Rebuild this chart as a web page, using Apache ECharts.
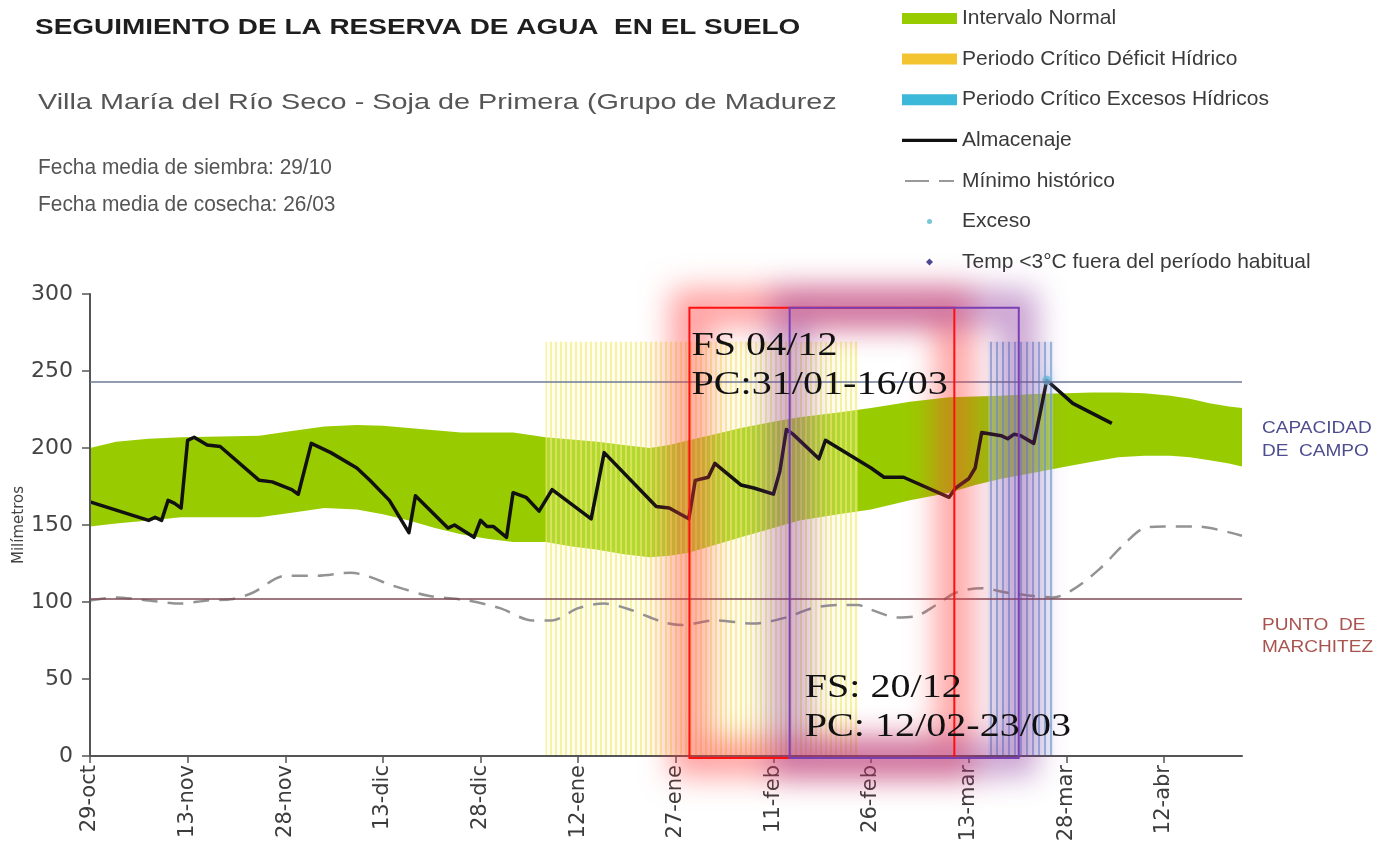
<!DOCTYPE html>
<html>
<head>
<meta charset="utf-8">
<script src="https://cdn.jsdelivr.net/npm/echarts@6/dist/echarts.min.js"></script>
<style>
  html, body { margin: 0; background: #fff; }
  #chart { width: 1378px; height: 852px; }
</style>
</head>
<body>
<div id="chart"></div>
<script>
// ejes: días desde el 29-oct
const diasX = [0, 15, 30, 45, 60, 75, 90, 105, 120, 135, 150, 165]
const etiquetasX = ['29-oct', '13-nov', '28-nov', '13-dic', '28-dic', '12-ene', '27-ene', '11-feb', '26-feb', '13-mar', '28-mar', '12-abr']

// intervalo normal (banda verde)
const bandaDias = [0, 4, 9, 14, 20, 26, 31, 36, 41, 45, 49, 53, 57, 61, 65, 70, 74, 78, 82, 86, 89, 92, 96, 100, 105, 109, 115, 120, 126, 132, 136, 140, 145, 150, 154, 158, 162, 166, 169, 172, 175, 177]
const bandaSup = [200, 204, 206, 207, 207.5, 208, 211, 214, 215, 214.5, 213, 211.5, 210, 210, 210, 207, 205.5, 204, 202, 200, 202, 205, 209, 213, 217, 220, 223, 226, 230, 233, 233.5, 234, 235, 235.5, 236, 236, 235.5, 234, 232, 229, 227, 226]
const bandaInf = [149, 151, 153, 155, 155, 155, 158, 161, 160, 157, 153, 148, 144, 141, 139, 139, 136, 134, 131, 129, 130, 132, 137, 142, 148, 153, 157, 160, 166, 171, 176, 180, 184, 188, 191, 194, 195, 195, 194, 192, 190, 188]

// almacenaje
const almDias = [0, 9, 10, 11, 12, 13, 14, 15, 16, 18, 20, 26, 28, 31, 32, 34, 37, 41, 43, 46, 49, 50, 55, 56, 59, 60, 61, 62, 64, 65, 67, 69, 71, 77, 79, 87, 89, 92, 93, 95, 96, 100, 102, 105, 106, 107, 108, 112, 113, 120, 122, 125, 132, 133, 135, 136, 137, 140, 141, 142, 143, 145, 146, 147, 151, 157]
const almValores = [165, 153, 155, 153, 166, 164, 161, 205, 207, 202, 201, 179, 178, 173, 170, 203, 197, 187, 179, 166, 145, 169, 148, 150, 142, 153, 149, 149, 142, 171, 168, 159, 173, 154, 197, 162, 161, 154, 179, 181, 190, 176, 174, 170, 185, 212, 209, 193, 205, 187, 181, 181, 168, 174, 180, 187, 210, 208, 206, 209, 208, 203, 223, 244, 229, 216]

// mínimo histórico
const minDias = [0, 4, 9, 14, 18, 22, 25, 30, 35, 40, 47, 52, 58, 63, 68, 71, 75, 79, 83, 88, 91, 96, 102, 107, 111, 115, 118, 120, 124, 127, 130, 133, 137, 141, 148, 151, 155, 159, 162, 165, 170, 177]
const minValores = [101, 103, 101, 99, 101, 102, 106, 117, 117, 119, 110, 104, 101, 96, 88, 88, 96, 99, 95, 87, 85, 88, 86, 90, 96, 98, 98, 95, 90, 91, 98, 106, 109, 106, 103, 108, 121, 138, 148, 149, 149, 143]

const capacidadCampo = 243
const puntoMarchitez = 102
const periodoDeficit = [70, 118]
const periodoExceso = [138, 148]
const alturaPeriodos = 269
const puntosExceso = [[147, 244]]

// recuadros añadidos a mano (días, mm)
const cajaRoja = [92.1, 132.8]
const cajaMorada = [107.5, 142.7]
const cajaValores = [-1.3, 291]

function rayas(fondo, linea, paso, grosor) {
  const c = document.createElement('canvas')
  c.width = paso
  c.height = 4
  const g = c.getContext('2d')
  g.fillStyle = fondo
  g.fillRect(0, 0, paso, 4)
  g.fillStyle = linea
  g.fillRect(0, 0, grosor, 4)
  return c
}

const option = {
  backgroundColor: '#fff',
  animation: false,
  grid: { left: 90, right: 136, top: 294, bottom: 96, containLabel: false, outerBoundsMode: 'none' },
  legend: {
    orient: 'vertical',
    left: 897,
    top: 3,
    itemWidth: 55,
    itemHeight: 11,
    itemGap: 19.6,
    selectedMode: false,
    textStyle: { fontFamily: 'Liberation Sans', fontSize: 21, lineHeight: 21, color: '#3a3a3a' },
    data: [
      { name: 'Intervalo Normal', icon: 'rect', itemStyle: { color: '#99cc00', borderWidth: 0 } },
      { name: 'Periodo Crítico Déficit Hídrico', icon: 'rect', itemStyle: { color: '#f4c430', borderWidth: 0 } },
      { name: 'Periodo Crítico Excesos Hídricos', icon: 'rect', itemStyle: { color: '#3cb8d8', borderWidth: 0 } },
      { name: 'Almacenaje', icon: 'path://M0,0M55,11M0,4H55V7.2H0Z', itemStyle: { color: '#111', borderWidth: 0 } },
      { name: 'Mínimo histórico', icon: 'path://M0,0M55,11M3,4.6H27V6.6H3ZM37,4.6H52V6.6H37Z', itemStyle: { color: '#999', borderWidth: 0 } },
      { name: 'Exceso', icon: 'path://M0,0M55,11M25,5.5a2.5,2.5 0 1,0 5,0a2.5,2.5 0 1,0 -5,0Z', itemStyle: { color: '#55b8c8', borderWidth: 0 } },
      { name: 'Temp <3°C fuera del período habitual', icon: 'path://M0,0M55,11M27.5,2L31,5.5L27.5,9L24,5.5Z', itemStyle: { color: '#1c1c80', borderWidth: 0 } }
    ]
  },
  xAxis: {
    type: 'value',
    min: 0,
    max: 177,
    z: 4,
    splitLine: { show: false },
    axisLine: { lineStyle: { color: '#555', width: 2 } },
    axisTick: { customValues: diasX, length: 7, lineStyle: { color: '#555', width: 1.5 } },
    axisLabel: {
      customValues: diasX,
      rotate: 90,
      margin: 9,
      fontFamily: 'DejaVu Sans',
      fontSize: 21,
      color: '#3c3c3c',
      formatter: v => etiquetasX[diasX.indexOf(v)] || ''
    }
  },
  yAxis: {
    type: 'value',
    min: 0,
    max: 300,
    interval: 50,
    z: 4,
    name: 'Milímetros',
    nameLocation: 'middle',
    nameRotate: 90,
    nameGap: 63,
    nameMoveOverlap: false,
    nameTextStyle: { fontFamily: 'DejaVu Sans', fontSize: 15, color: '#444' },
    splitLine: { show: false },
    axisLine: { show: true, lineStyle: { color: '#555', width: 2 } },
    axisTick: { show: true, length: 8, lineStyle: { color: '#555', width: 1.5 } },
    axisLabel: { fontFamily: 'DejaVu Sans', fontSize: 22, color: '#444', margin: 17 }
  },
  series: [
    {
      name: 'Intervalo Normal',
      type: 'custom',
      z: 0,
      silent: true,
      clip: true,
      data: [[0, 0]],
      itemStyle: { color: '#99cc00' },
      renderItem: (params, api) => {
        const arriba = bandaDias.map((d, i) => api.coord([d, bandaSup[i]]))
        const abajo = bandaDias.map((d, i) => api.coord([d, bandaInf[i]])).reverse()
        return {
          type: 'polygon',
          shape: { points: arriba.concat(abajo) },
          style: { fill: '#99cc00' }
        }
      }
    },
    {
      name: 'Periodo Crítico Déficit Hídrico',
      type: 'line',
      data: [],
      itemStyle: { color: '#f4c430' },
      markArea: {
        silent: true,
        itemStyle: { color: { image: rayas('rgba(255,252,200,0.25)', 'rgba(242,232,110,0.6)', 5, 2), repeat: 'repeat' } },
        data: [[{ xAxis: periodoDeficit[0], yAxis: 0 }, { xAxis: periodoDeficit[1], yAxis: alturaPeriodos }]]
      }
    },
    {
      name: 'Periodo Crítico Excesos Hídricos',
      type: 'line',
      data: [],
      itemStyle: { color: '#3cb8d8' },
      markArea: {
        silent: true,
        itemStyle: { color: { image: rayas('rgba(200,225,245,0.35)', 'rgba(110,160,215,0.65)', 6, 2), repeat: 'repeat' } },
        data: [[{ xAxis: periodoExceso[0], yAxis: 0 }, { xAxis: periodoExceso[1], yAxis: alturaPeriodos }]]
      }
    },
    {
      name: 'referencias',
      type: 'line',
      data: [],
      markLine: {
        silent: true,
        symbol: 'none',
        label: { show: false },
        data: [
          { yAxis: capacidadCampo, lineStyle: { color: '#6d7a99', width: 1.5, type: 'solid' } },
          { yAxis: puntoMarchitez, lineStyle: { color: '#7e4b57', width: 1.5, type: 'solid' } }
        ]
      }
    },
    {
      name: 'Mínimo histórico',
      type: 'line',
      z: 3,
      symbol: 'none',
      smooth: 0.3,
      data: minDias.map((d, i) => [d, minValores[i]]),
      itemStyle: { color: '#999' },
      lineStyle: { color: '#939393', width: 2.5, type: [16, 10] }
    },
    {
      name: 'Almacenaje',
      type: 'line',
      z: 3,
      symbol: 'none',
      data: almDias.map((d, i) => [d, almValores[i]]),
      itemStyle: { color: '#111' },
      lineStyle: { color: '#111', width: 3.5, join: 'round' }
    },
    {
      name: 'Exceso',
      type: 'scatter',
      z: 4,
      symbolSize: 9,
      data: puntosExceso,
      itemStyle: { color: '#66c8e0', shadowBlur: 12, shadowColor: '#9adcf2' }
    },
    {
      name: 'Temp <3°C fuera del período habitual',
      type: 'scatter',
      symbol: 'diamond',
      data: [],
      itemStyle: { color: '#1c1c80' }
    }
  ]
}

const chart = echarts.init(document.getElementById('chart'))
chart.setOption(option)

const px = (d, v) => chart.convertToPixel({ gridIndex: 0 }, [d, v])
const LEJOS = 4000

function texto(x, y, s, font, fill, escala) {
  return { type: 'text', x, y, z: 80, silent: true, scaleX: escala,
    style: { text: s, font, fill, verticalAlign: 'middle', align: 'left' } }
}

// halo difuminado: sólo se pinta la sombra, el trazo queda fuera del lienzo
function brillo(dias, color) {
  const [x0, y0] = px(dias[0], cajaValores[1])
  const [x1, y1] = px(dias[1], cajaValores[0])
  return { type: 'rect', z: 50, silent: true, x: -LEJOS,
    shape: { x: x0, y: y0, width: x1 - x0, height: y1 - y0 },
    style: { fill: 'none', stroke: '#000', lineWidth: 36, shadowBlur: 30, shadowColor: color, shadowOffsetX: LEJOS } }
}

function marco(dias, color) {
  const [x0, y0] = px(dias[0], cajaValores[1])
  const [x1, y1] = px(dias[1], cajaValores[0])
  return { type: 'rect', z: 60, silent: true,
    shape: { x: x0, y: y0, width: x1 - x0, height: y1 - y0 },
    style: { fill: 'none', stroke: color, lineWidth: 2 } }
}

const [rx0, ry0] = px(cajaRoja[0], cajaValores[1])
const [mx0, my1] = px(cajaMorada[0], cajaValores[0])
const yCap = px(0, capacidadCampo)[1]
const yMar = px(0, puntoMarchitez)[1]
const xDer = px(177, 0)[0] + 20

chart.setOption({
  graphic: [
    texto(35, 28, 'SEGUIMIENTO DE LA RESERVA DE AGUA  EN EL SUELO', 'bold 22px "Liberation Sans"', '#1e1e1e', 1.27),
    texto(38, 103, 'Villa María del Río Seco - Soja de Primera (Grupo de Madurez', '22px "Liberation Sans"', '#555', 1.31),
    texto(38, 168, 'Fecha media de siembra: 29/10', '22px "Liberation Sans"', '#555', 0.95),
    texto(38, 205, 'Fecha media de cosecha: 26/03', '22px "Liberation Sans"', '#555', 0.95),
    texto(xDer, yCap + 47, 'CAPACIDAD', '16px "Liberation Sans"', '#4d4d8f', 1.19),
    texto(xDer, yCap + 70, 'DE  CAMPO', '16px "Liberation Sans"', '#4d4d8f', 1.19),
    texto(xDer, yMar + 27, 'PUNTO  DE', '16px "Liberation Sans"', '#a9534f', 1.19),
    texto(xDer, yMar + 49, 'MARCHITEZ', '16px "Liberation Sans"', '#a9534f', 1.19),
    brillo(cajaRoja, 'rgba(255,60,60,0.5)'),
    brillo(cajaMorada, 'rgba(135,45,150,0.45)'),
    marco(cajaRoja, '#ff1010'),
    marco(cajaMorada, '#7b3fb4'),
    texto(rx0 + 2, ry0 + 38, 'FS 04/12', '34px "Liberation Serif"', '#111', 1.18),
    texto(rx0 + 2, ry0 + 77, 'PC:31/01-16/03', '34px "Liberation Serif"', '#111', 1.18),
    texto(mx0 + 15, my1 - 70, 'FS: 20/12', '34px "Liberation Serif"', '#111', 1.18),
    texto(mx0 + 15, my1 - 31, 'PC: 12/02-23/03', '34px "Liberation Serif"', '#111', 1.18)
  ]
})

window.addEventListener('resize', () => chart.resize())
</script>
</body>
</html>
